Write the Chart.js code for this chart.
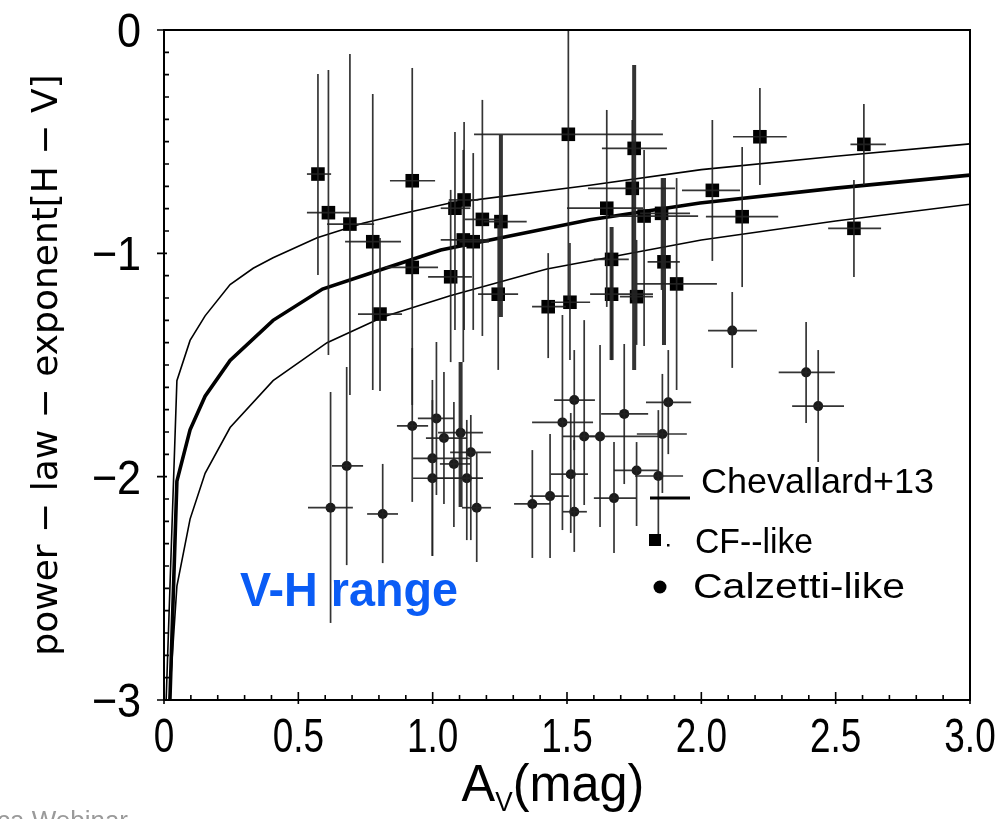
<!DOCTYPE html>
<html>
<head>
<meta charset="utf-8">
<script src="https://cdn.jsdelivr.net/npm/chart.js@4.4.1/dist/chart.umd.min.js"></script>
<style>
  html, body { margin: 0; padding: 0; background: #ffffff; }
  canvas { display: block; }
</style>
</head>
<body>
<canvas id="chart" width="1002" height="819"></canvas>
<script>
// Chevallard+13 relation: central curve and its two envelopes
const chevMidAv = [0.022, 0.048, 0.097, 0.153, 0.246, 0.406, 0.59, 0.815, 1.03, 1.585, 1.995, 2.5, 3.0];
const chevMidN  = [-3.0, -2.02, -1.79, -1.64, -1.48, -1.30, -1.16, -1.07, -0.985, -0.85, -0.775, -0.708, -0.65];
const chevUpAv  = [0.008, 0.048, 0.097, 0.153, 0.246, 0.332, 0.406, 0.57, 0.74, 0.915, 1.065, 1.585, 2.0, 2.5, 3.0];
const chevUpN   = [-3.0, -1.57, -1.39, -1.28, -1.14, -1.067, -1.02, -0.93, -0.865, -0.815, -0.775, -0.695, -0.625, -0.565, -0.51];
const chevLoAv  = [0.02, 0.048, 0.097, 0.153, 0.246, 0.406, 0.607, 0.815, 1.065, 1.425, 2.0, 2.5, 3.0];
const chevLoN   = [-3.0, -2.49, -2.19, -1.985, -1.78, -1.57, -1.40, -1.285, -1.19, -1.07, -0.94, -0.855, -0.78];

// CF-like galaxies: A_V, exponent, and error-bar bounds
const cfAv   = [0.573, 0.612, 0.692, 0.777, 0.924, 0.924, 0.804, 1.067, 1.083, 1.117, 1.114, 1.151, 1.185, 1.254, 1.244, 1.430, 1.505, 1.511, 1.648, 1.666, 1.666, 1.743, 1.750, 1.787, 1.852, 1.861, 1.759, 1.908, 2.041, 2.152, 2.218, 2.568, 2.605];
const cfN    = [-0.645, -0.818, -0.869, -0.948, -0.675, -1.063, -1.272, -1.105, -0.798, -0.761, -0.940, -0.948, -0.848, -0.858, -1.183, -1.239, -0.467, -1.219, -0.798, -1.027, -1.183, -0.709, -0.530, -0.833, -0.821, -1.038, -1.194, -1.137, -0.718, -0.836, -0.478, -0.888, -0.512];
const cfAvLo = [0.532, 0.532, 0.607, 0.674, 0.841, 0.823, 0.722, 0.983, 1.03, 1.06, 1.03, 1.10, 1.12, 1.19, 1.169, 1.370, 1.154, 1.440, 1.500, 1.60, 1.586, 1.578, 1.630, 1.660, 1.772, 1.80, 1.697, 1.760, 1.928, 2.017, 2.118, 2.472, 2.555];
const cfAvHi = [0.622, 0.692, 0.782, 0.882, 1.009, 1.020, 0.886, 1.146, 1.14, 1.17, 1.21, 1.21, 1.25, 1.35, 1.318, 1.496, 1.857, 1.586, 1.783, 1.73, 1.820, 1.902, 1.872, 1.988, 1.958, 1.92, 1.820, 2.058, 2.144, 2.286, 2.318, 2.669, 2.687];
const cfNHi  = [-0.197, -0.179, -0.107, -0.287, -0.170, -0.761, -0.931, -0.716, -0.457, -0.412, -0.537, -0.551, -0.313, -0.470, -0.873, -0.999, 0.0, -0.954, -0.358, -0.882, -0.985, -0.403, -0.157, -0.537, -0.663, -0.663, -0.940, -0.663, -0.403, -0.524, -0.260, -0.672, -0.331];
const cfNLo  = [-1.097, -1.455, -1.634, -1.612, -1.209, -1.679, -1.616, -1.487, -1.343, -1.343, -1.487, -1.343, -1.370, -1.285, -1.522, -1.469, -1.209, -1.478, -1.240, -1.478, -1.478, -1.209, -1.522, -1.415, -1.164, -1.410, -1.410, -1.612, -1.034, -1.151, -0.694, -1.106, -0.694];

// Calzetti-like galaxies
const czAv   = [0.620, 0.680, 0.814, 0.924, 1.014, 1.042, 0.999, 0.999, 1.104, 1.142, 1.079, 1.127, 1.164, 1.371, 1.437, 1.483, 1.527, 1.564, 1.623, 1.514, 1.527, 1.675, 1.713, 1.759, 1.840, 1.855, 1.877, 2.115, 2.390, 2.435];
const czN    = [-2.139, -1.952, -2.167, -1.773, -1.739, -1.827, -1.918, -2.007, -1.803, -1.891, -1.943, -2.007, -2.139, -2.122, -2.087, -1.757, -1.657, -1.820, -1.820, -1.989, -2.157, -2.096, -1.719, -1.972, -1.997, -1.809, -1.667, -1.346, -1.533, -1.684];
const czAvLo = [0.536, 0.625, 0.756, 0.867, 0.945, 0.975, 0.927, 0.927, 1.020, 1.065, 1.027, 1.001, 1.109, 1.303, 1.362, 1.370, 1.452, 1.485, 1.567, 1.440, 1.485, 1.600, 1.627, 1.675, 1.753, 1.760, 1.794, 2.025, 2.288, 2.338];
const czAvHi = [0.703, 0.741, 0.871, 0.983, 1.079, 1.128, 1.139, 1.187, 1.187, 1.217, 1.139, 1.187, 1.217, 1.437, 1.507, 1.597, 1.604, 1.623, 1.839, 1.578, 1.574, 1.757, 1.802, 1.839, 1.932, 1.946, 1.962, 2.207, 2.497, 2.531];
const czNHi  = [-1.621, -1.509, -1.943, -1.424, -1.397, -1.531, -1.567, -1.657, -1.487, -1.724, -1.666, -1.746, -1.894, -1.881, -1.809, -1.276, -1.433, -1.299, -1.410, -1.715, -1.836, -1.845, -1.406, -1.845, -1.702, -1.540, -1.433, -1.173, -1.307, -1.433];
const czNLo  = [-2.655, -2.396, -2.387, -2.113, -2.082, -2.122, -2.355, -2.355, -2.136, -2.284, -2.225, -2.284, -2.382, -2.364, -2.364, -2.239, -1.881, -2.127, -2.225, -2.252, -2.337, -2.342, -2.033, -2.221, -2.270, -2.073, -1.899, -1.513, -1.760, -1.934];

// Axis tick values and labels
const xTickValues = [0, 0.5, 1, 1.5, 2, 2.5, 3];
const xTickLabels = ['0', '0.5', '1.0', '1.5', '2.0', '2.5', '3.0'];
const yTickValues = [0, -1, -2, -3];
const yTickLabels = ['0', '\u22121', '\u22122', '\u22123'];

// error bars that are stroked heavier (overlapping measurements)
const heavyBars = {cf: [13, 19, 22, 25], cz: [8]};

const pts = (xs, ys) => xs.map((v, i) => ({x: v, y: ys[i]}));

const TEXT_FONT = '"Liberation Sans", Arial, sans-serif';
const LABEL_FONT = '48px ' + TEXT_FONT;

// text drawn with a horizontal squeeze/stretch; align: 'left' | 'center' | 'right'
function fillScaled(ctx, text, x, y, sx, align) {
  const w = ctx.measureText(text).width * sx;
  const x0 = align === 'center' ? x - w / 2 : align === 'right' ? x - w : x;
  ctx.save();
  ctx.translate(x0, y);
  ctx.scale(sx, 1);
  ctx.textAlign = 'left';
  ctx.fillText(text, 0, 0);
  ctx.restore();
}
function fillTextWidth(ctx, text, x, y, width) {
  fillScaled(ctx, text, x, y, width / ctx.measureText(text).width, 'left');
}

// error bars drawn on top of markers, clipped to the plot box
const errorBars = {
  id: 'errorBars',
  afterDatasetsDraw(chart) {
    const {ctx, chartArea: a, scales: {x, y}} = chart;
    ctx.save();
    ctx.beginPath();
    ctx.rect(a.left, a.top, a.right - a.left, a.bottom - a.top);
    ctx.clip();
    ctx.strokeStyle = 'rgba(35,35,35,0.92)';
    chart.data.datasets.forEach(ds => {
      if (!ds.err) return;
      const heavy = heavyBars[ds.key] || [];
      ds.data.forEach((p, i) => {
        const px = x.getPixelForValue(p.x), py = y.getPixelForValue(p.y);
        ctx.lineWidth = 1.7;
        ctx.beginPath();
        ctx.moveTo(x.getPixelForValue(ds.err.xLo[i]), py);
        ctx.lineTo(x.getPixelForValue(ds.err.xHi[i]), py);
        ctx.stroke();
        ctx.lineWidth = heavy.includes(i) ? 4 : 1.7;
        ctx.beginPath();
        ctx.moveTo(px, y.getPixelForValue(ds.err.yHi[i]));
        ctx.lineTo(px, y.getPixelForValue(ds.err.yLo[i]));
        ctx.stroke();
      });
    });
    ctx.restore();
  }
};

// plot frame, tick marks and tick numerals
const frame = {
  id: 'frame',
  afterDraw(chart) {
    const {ctx, chartArea: a, scales: {x, y}} = chart;
    ctx.save();
    ctx.strokeStyle = '#000';
    ctx.lineWidth = 2;
    ctx.strokeRect(a.left, a.top, a.right - a.left, a.bottom - a.top);
    ctx.lineWidth = 1.6;
    ctx.beginPath();
    for (let k = 0; k <= 30; k++) {
      const px = x.getPixelForValue(k / 10);
      const major = k % 5 === 0;
      ctx.moveTo(px, a.bottom + (major ? 4 : 0));
      ctx.lineTo(px, a.bottom - (major ? 8 : 5));
    }
    for (let k = 0; k <= 30; k++) {
      const py = y.getPixelForValue(-k / 10);
      const major = k % 10 === 0;
      ctx.moveTo(a.left - (major ? 7 : 0), py);
      ctx.lineTo(a.left + (major ? 3 : 5), py);
    }
    ctx.stroke();

    ctx.fillStyle = '#000';
    ctx.font = LABEL_FONT;
    ctx.textBaseline = 'alphabetic';
    xTickValues.forEach((v, i) => {
      fillScaled(ctx, xTickLabels[i], x.getPixelForValue(v), a.bottom + 52, 0.77, 'center');
    });
    yTickValues.forEach((v, i) => {
      fillScaled(ctx, yTickLabels[i], a.left - 23, y.getPixelForValue(v) + 17, 0.9, 'right');
    });
    ctx.restore();
  }
};

// axis title with subscript, legend, panel annotation
const annotations = {
  id: 'annotations',
  afterDraw(chart) {
    const {ctx} = chart;
    ctx.save();
    ctx.fillStyle = '#000';
    ctx.textBaseline = 'alphabetic';

    // x-axis title: A_V(mag)
    const sq = 0.97;
    const big = '52px ' + TEXT_FONT, small = '27px ' + TEXT_FONT;
    ctx.font = big; const wA = ctx.measureText('A').width * sq; const wM = ctx.measureText('(mag)').width * sq;
    ctx.font = small; const wV = ctx.measureText('V').width * sq;
    let tx = 553 - (wA + wV + wM) / 2;
    const base = 801;
    ctx.font = big; fillScaled(ctx, 'A', tx, base, sq, 'left'); tx += wA;
    ctx.font = small; fillScaled(ctx, 'V', tx, base + 10, sq, 'left'); tx += wV;
    ctx.font = big; fillScaled(ctx, '(mag)', tx, base, sq, 'left');

    // legend
    ctx.lineWidth = 3;
    ctx.beginPath(); ctx.moveTo(650, 498); ctx.lineTo(690, 498); ctx.stroke();
    ctx.fillRect(649, 534, 12, 12);
    ctx.fillRect(667, 544, 2.5, 2.5);
    ctx.beginPath(); ctx.arc(660, 587, 6.5, 0, Math.PI * 2); ctx.fill();
    ctx.font = '35px ' + TEXT_FONT;
    fillTextWidth(ctx, 'Chevallard+13', 701, 493, 233);
    fillTextWidth(ctx, 'CF--like', 695, 553, 118);
    fillTextWidth(ctx, 'Calzetti-like', 693, 598, 212);

    // panel label
    ctx.fillStyle = '#0a5cf5';
    ctx.font = 'bold 48px ' + TEXT_FONT;
    fillTextWidth(ctx, 'V-H range', 240, 606, 218);

    // footer
    ctx.fillStyle = '#9a9a9a';
    ctx.font = '26px ' + TEXT_FONT;
    ctx.fillText('ca Webinar', -3, 829);
    ctx.restore();
  }
};

// zero out tick-label overflow so the plot box sits exactly inside the layout padding
const noOverflow = s => { s.paddingLeft = 0; s.paddingRight = 0; s.paddingTop = 0; s.paddingBottom = 0; };

new Chart(document.getElementById('chart'), {
  type: 'scatter',
  data: {
    datasets: [
      {
        key: 'cf',
        label: 'CF--like',
        data: pts(cfAv, cfN),
        err: {xLo: cfAvLo, xHi: cfAvHi, yLo: cfNLo, yHi: cfNHi},
        pointStyle: 'rect', pointRadius: 9.6, pointBorderWidth: 0,
        backgroundColor: '#000', borderColor: '#000'
      },
      {
        key: 'cz',
        label: 'Calzetti-like',
        data: pts(czAv, czN),
        err: {xLo: czAvLo, xHi: czAvHi, yLo: czNLo, yHi: czNHi},
        pointStyle: 'circle', pointRadius: 5, pointBorderWidth: 0,
        backgroundColor: '#1a1a1a', borderColor: '#1a1a1a'
      },
      {
        label: 'Chevallard+13',
        data: pts(chevMidAv, chevMidN),
        showLine: true, pointRadius: 0, borderWidth: 3.6, borderColor: '#000', tension: 0
      },
      {
        label: 'Chevallard+13 upper',
        data: pts(chevUpAv, chevUpN),
        showLine: true, pointRadius: 0, borderWidth: 1.6, borderColor: '#000', tension: 0
      },
      {
        label: 'Chevallard+13 lower',
        data: pts(chevLoAv, chevLoN),
        showLine: true, pointRadius: 0, borderWidth: 1.6, borderColor: '#000', tension: 0
      }
    ]
  },
  options: {
    responsive: false,
    devicePixelRatio: 1,
    animation: false,
    layout: {padding: {top: 30, right: 32, left: 0, bottom: 0}},
    plugins: {legend: {display: false}, tooltip: {enabled: false}},
    scales: {
      x: {
        type: 'linear', min: 0, max: 3,
        grid: {display: false, drawTicks: false},
        border: {display: false},
        ticks: {display: false, stepSize: 0.5},
        afterFit: s => { s.height = 119; noOverflow(s); }
      },
      y: {
        type: 'linear', min: -3, max: 0,
        grid: {display: false, drawTicks: false},
        border: {display: false},
        ticks: {display: false, stepSize: 1},
        title: {
          display: true,
          text: 'power \u2212 law \u2212 exponent[H \u2212 V]',
          color: '#000',
          font: {size: 36, family: '"DejaVu Sans", sans-serif'},
          padding: {top: 26, bottom: 0}
        },
        afterFit: s => { s.width = 164; noOverflow(s); }
      }
    }
  },
  plugins: [errorBars, frame, annotations]
});
</script>
</body>
</html>
